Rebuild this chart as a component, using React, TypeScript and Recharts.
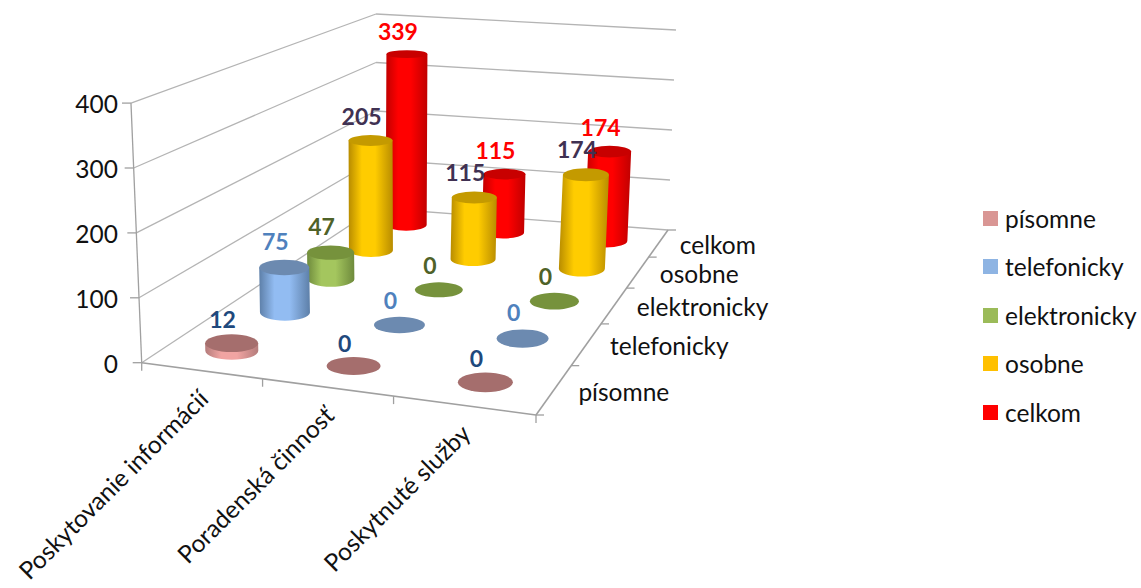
import React from "react";
import { ScatterChart, Scatter, XAxis, YAxis, Legend, Customized } from "recharts";

const categories = ["Poskytovanie informácií", "Poradenská činnosť", "Poskytnuté služby"];
const seriesNames = ["písomne", "telefonicky", "elektronicky", "osobne", "celkom"];
const pisomne = [12, 0, 0];
const telefonicky = [75, 0, 0];
const elektronicky = [47, 0, 0];
const osobne = [205, 115, 174];
const celkom = [339, 115, 174];
const valueTicks = [0, 100, 200, 300, 400];

const seriesValues = [pisomne, telefonicky, elektronicky, osobne, celkom];
const W = 1141, H = 588;
const FONT = "Lato, Carlito, sans-serif";
const FS = 24.5;

const swatch = ["#d99694", "#8eb4e3", "#9bbb59", "#ffc000", "#ff0000"];
const sideEdge = ["#b47c7b", "#5d7fa8", "#6e8a3c", "#b88c00", "#c00000"];
const sideMid = ["#f0a4a2", "#92bcf2", "#a4c65e", "#ffcc00", "#ff0000"];
const topFill = ["#a56e6d", "#6c8ab0", "#76923c", "#c49a00", "#c80000"];
const labelFill = ["#1f497d", "#4f81bd", "#4f6228", "#403152", "#ff0000"];

// floor corners of the 3D box
const P0 = [141.7, 362.7], P1 = [536, 415], P2 = [668, 230], P3 = [376, 208];
const sx = P0[0] - P1[0] + P2[0] - P3[0], sy = P0[1] - P1[1] + P2[1] - P3[1];
const dx1 = P1[0] - P2[0], dx2 = P3[0] - P2[0], dy1 = P1[1] - P2[1], dy2 = P3[1] - P2[1];
const den = dx1 * dy2 - dx2 * dy1;
const g = (sx * dy2 - dx2 * sy) / den, h = (dx1 * sy - sx * dy1) / den;
const a = P1[0] - P0[0] + g * P1[0], b = P3[0] - P0[0] + h * P3[0];
const d = P1[1] - P0[1] + g * P1[1], e = P3[1] - P0[1] + h * P3[1];
const floor = (u: number, v: number) => {
  const w = g * u + h * v + 1;
  return { x: (a * u + b * v + P0[0]) / w, y: (d * u + e * v + P0[1]) / w };
};
// screen vector of one value unit, by floor position
const unit = (u: number, v: number) => {
  const mix = (fl: number, fr: number, br: number, bl: number) =>
    (1 - v) * ((1 - u) * fl + u * fr) + v * ((1 - u) * bl + u * br);
  return { x: mix(-0.0268, 0.04, 0.025, 0), y: -mix(0.649, 0.64, 0.5, 0.485) };
};
const U = (c: number) => (c + 0.5) / categories.length;
const V = (s: number) => (s + 0.5) / seriesNames.length;

const rows = seriesNames.map((name, s) =>
  categories.map((category, c) => {
    const p = floor(U(c), V(s));
    return { category, c, s, name, value: seriesValues[s][c], x: p.x + 1, y: p.y + 1.8 };
  })
);
const tickRows = valueTicks.map((v) => ({ x: 0, y: v }));

const Cylinder = (props: any) => {
  const { cx, cy, payload } = props;
  const { c, s, value } = payload;
  const vec = unit(U(c), V(s));
  const rx = 20.5 + (4 - s) * 1.5 + c * 0.5;
  const ry = 6 + (4 - s) * 0.75 + (c === 2 ? 0.9 : 0);
  const tx = cx + vec.x * value, ty = cy + vec.y * value;
  const rt = Math.max(3, ry - (cy - ty) * 0.012);
  const gap = value === 0 ? (s === 0 ? 5 : 8) : s === 0 ? 6 : 10;
  const label = (
    <text x={tx - 9} y={ty - rt - gap} textAnchor="middle" fontFamily={FONT} fontWeight={700} fontSize={23} fill={labelFill[s]}>
      {value}
    </text>
  );
  if (value === 0) {
    return (
      <g>
        <ellipse cx={cx} cy={cy} rx={rx} ry={ry} fill={topFill[s]} />
        {label}
      </g>
    );
  }
  const side = `M${cx - rx} ${cy} L${tx - rx} ${ty} L${tx + rx} ${ty} L${cx + rx} ${cy} A${rx} ${ry} 0 0 1 ${cx - rx} ${cy} Z`;
  return (
    <g>
      <path d={side} fill={`url(#side${s})`} />
      <ellipse cx={tx} cy={ty} rx={rx} ry={rt} fill={topFill[s]} />
      {label}
    </g>
  );
};

const GRID = "#b4b4b4", AXIS = "#a0a0a0";

const Scene = () => {
  const lines: any[] = [];
  const seg = (p: any, q: any, stroke: string, key: string, sw = 1.3) =>
    lines.push(<line key={key} x1={p.x} y1={p.y} x2={q.x} y2={q.y} stroke={stroke} strokeWidth={sw} />);
  const up = (u: number, v: number, val: number) => {
    const f = floor(u, v), t = unit(u, v);
    return { x: f.x + t.x * val, y: f.y + t.y * val };
  };
  valueTicks.forEach((val, i) => {
    const l = up(0, 0, val), m = up(0, 1, val), r0 = up(1, 1, val);
    const r = { x: floor(1, 1).x + 0.02 * val, y: r0.y };
    seg(l, m, GRID, `l${i}`);
    seg(m, r, GRID, `r${i}`);
    seg({ x: l.x - 9, y: l.y }, l, AXIS, `t${i}`);
  });
  seg(up(0, 0, 0), up(0, 0, 400), AXIS, "yaxis");
  seg(floor(0, 0), floor(1, 0), AXIS, "front", 1.6);
  seg(floor(1, 0), floor(1, 1), AXIS, "side", 1.6);
  categories.forEach((_, i) => {
    const p = floor(i / categories.length, 0);
    seg(p, { x: p.x, y: p.y + 8 }, AXIS, `ct${i}`);
  });
  seg(floor(1, 0), { x: floor(1, 0).x, y: floor(1, 0).y + 8 }, AXIS, "ctl");
  seriesNames.forEach((_, i) => {
    const p = floor(1, i / seriesNames.length);
    seg(p, { x: p.x + 8, y: p.y }, AXIS, `st${i}`);
  });
  seg(floor(1, 1), { x: floor(1, 1).x + 8, y: floor(1, 1).y }, AXIS, "stl");
  return (
    <g>
      <defs>
        {seriesNames.map((_, s) => (
          <linearGradient key={s} id={`side${s}`} x1="0" y1="0" x2="1" y2="0">
            <stop offset="0" stopColor={sideEdge[s]} />
            <stop offset="0.3" stopColor={sideMid[s]} />
            <stop offset="0.6" stopColor={sideMid[s]} />
            <stop offset="1" stopColor={sideEdge[s]} />
          </linearGradient>
        ))}
      </defs>
      {lines}
      {categories.map((name, c) => {
        const p = floor(U(c), 0);
        const ax = p.x + 9, ay = p.y + 30;
        return (
          <text key={name} x={ax} y={ay} textAnchor="end" fontFamily={FONT} fontSize={FS} fill="#111"
            transform={`rotate(-45 ${ax} ${ay})`}>
            {name}
          </text>
        );
      })}
      {seriesNames.map((name, s) => {
        const p = floor(1, V(s));
        return (
          <text key={name} x={p.x + 24 - s * 0.7} y={p.y + 11 + (s === 0 ? 1 : 0)} textAnchor="start" fontFamily={FONT} fontSize={FS} fill="#111">
            {name}
          </text>
        );
      })}
    </g>
  );
};

const LegendBox = () => (
  <div style={{ position: "absolute", left: 983, top: 194 }}>
    {seriesNames.map((name, s) => (
      <div key={name} style={{ display: "flex", alignItems: "center", height: 48.5, fontFamily: FONT, fontSize: FS, color: "#111" }}>
        <span style={{ width: 15, height: 15, background: swatch[s], marginRight: 7, display: "inline-block" }} />
        {name}
      </div>
    ))}
  </div>
);

const ValueTick = (props: any) => (
  <text x={118} y={props.y + 10} textAnchor="end" fontFamily={FONT} fontSize={FS} fill="#111">
    {props.payload.value}
  </text>
);

export default function App() {
  const order = [4, 3, 2, 1, 0];
  return (
    <div style={{ position: "absolute", left: 0, top: 0, width: W, height: H }}>
      <ScatterChart width={W} height={H} margin={{ top: 0, right: 0, bottom: 0, left: 0 }}>
        <XAxis type="number" dataKey="x" domain={[0, W]} hide />
        <YAxis yAxisId="px" type="number" dataKey="y" domain={[0, H]} reversed hide />
        <YAxis yAxisId="value" type="number" dataKey="y" mirror orientation="left" axisLine={false} tickLine={false}
          domain={[(363 - H) / 0.649, 363 / 0.649]} ticks={valueTicks} tick={<ValueTick />} interval={0} />
        <Customized component={Scene} />
        <Scatter yAxisId="value" name="ticks" data={tickRows} legendType="none" isAnimationActive={false} shape={() => <g />} />
        {order.map((s) => (
          <Scatter key={s} yAxisId="px" name={seriesNames[s]} data={rows[s]} fill={swatch[s]}
            isAnimationActive={false} shape={<Cylinder />} />
        ))}
        <Legend content={<LegendBox />} wrapperStyle={{ position: "absolute", left: 0, top: 0, width: 0, height: 0 }} />
      </ScatterChart>
    </div>
  );
}
